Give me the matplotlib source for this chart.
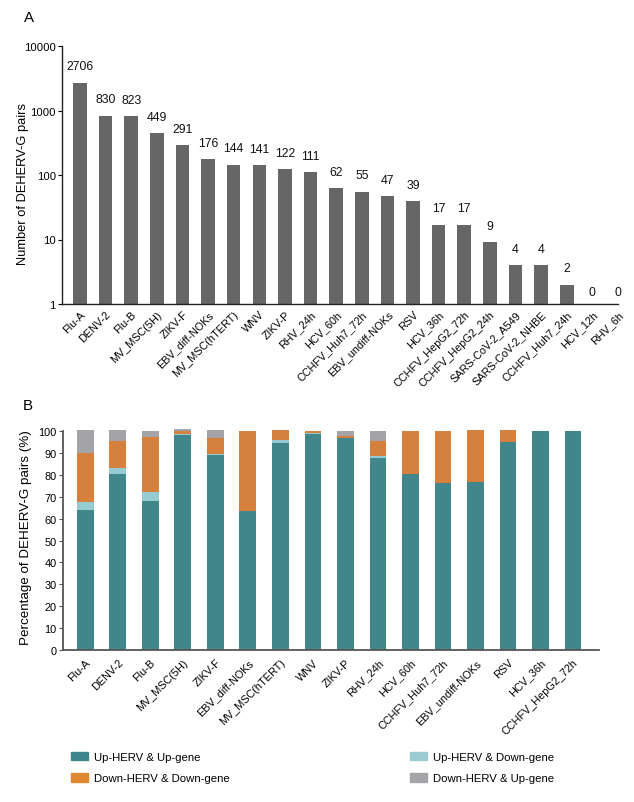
import matplotlib
matplotlib.use("Agg")
import matplotlib.pyplot as plt
from matplotlib.patches import Patch
import numpy as np

plt.rcParams['font.family'] = ['Liberation Sans', 'DejaVu Sans']

# ---------------- Data ----------------
cats_a = ['Flu-A', 'DENV-2', 'Flu-B', 'MV_MSC(5H)', 'ZIKV-F', 'EBV_diff-NOKs',
          'MV_MSC(hTERT)', 'WNV', 'ZIKV-P', 'RHV_24h', 'HCV_60h', 'CCHFV_Huh7_72h',
          'EBV_undiff-NOKs', 'RSV', 'HCV_36h', 'CCHFV_HepG2_72h', 'CCHFV_HepG2_24h',
          'SARS-CoV-2_A549', 'SARS-CoV-2_NHBE', 'CCHFV_Huh7_24h', 'HCV_12h', 'RHV_6h']
counts_a = [2706, 830, 823, 449, 291, 176, 144, 141, 122, 111, 62, 55, 47, 39,
            17, 17, 9, 4, 4, 2, 0, 0]

cats_b = ['Flu-A', 'DENV-2', 'Flu-B', 'MV_MSC(5H)', 'ZIKV-F', 'EBV_diff-NOKs',
          'MV_MSC(hTERT)', 'WNV', 'ZIKV-P', 'RHV_24h', 'HCV_60h', 'CCHFV_Huh7_72h',
          'EBV_undiff-NOKs', 'RSV', 'HCV_36h', 'CCHFV_HepG2_72h']
up_up     = [64.0, 80.5, 68.0, 98.3, 89.2, 63.6, 94.4, 98.8, 97.0, 87.5, 80.5, 76.4, 76.8, 95.0, 100.0, 100.0]
up_down   = [3.5, 2.7, 4.3, 0.4, 0.5, 0.0, 1.6, 0.4, 0.0, 0.9, 0.0, 0.0, 0.0, 0.0, 0.0, 0.0]
down_down = [22.5, 12.4, 25.0, 1.3, 6.9, 36.4, 4.5, 0.9, 0.5, 7.2, 19.5, 23.6, 23.6, 5.4, 0.0, 0.0]
down_up   = [10.4, 5.0, 2.7, 0.8, 4.0, 0.0, 0.0, 0.0, 2.7, 4.6, 0.0, 0.0, 0.0, 0.0, 0.0, 0.0]

series_labels = ['Up-HERV & Up-gene', 'Up-HERV & Down-gene',
                 'Down-HERV & Down-gene', 'Down-HERV & Up-gene']
series_colors = ['#41868A', '#96CBD1', '#D5803D', '#A4A3A7']
legend_colors = ['#3D878C', '#9ACCD2', '#DF8832', '#A5A4A8']

# ---------------- Figure ----------------
fig = plt.figure(figsize=(6.34, 8.03), dpi=100)

W, H = 634, 803
def ax_rect(l, t, r, b):
    return [l / W, 1 - b / H, (r - l) / W, (b - t) / H]

# ---------- Panel A ----------
axA = fig.add_axes(ax_rect(62, 47, 618, 305))
xa = np.arange(len(cats_a))
vals = np.array(counts_a, dtype=float)
plot_vals = np.where(vals > 0, vals, np.nan)
axA.bar(xa, plot_vals, width=0.53, color='#666666', bottom=0)
axA.set_yscale('log')
axA.set_ylim(1, 10000)
axA.set_xlim(-0.7, 21.0)
axA.set_yticks([1, 10, 100, 1000, 10000])
axA.set_yticklabels(['1', '10', '100', '1000', '10000'])
axA.yaxis.set_minor_locator(matplotlib.ticker.NullLocator())
for xi, v in zip(xa, counts_a):
    yv = v if v > 0 else 1
    off = 7.5 if v > 0 else 4.5
    axA.annotate(str(v), (xi, yv), xytext=(0, off), textcoords='offset points',
                 ha='center', va='bottom', fontsize=8.8, color='#111111')
axA.set_xticks(xa)
axA.set_xticklabels(cats_a, rotation=45, ha='right', va='top',
                    rotation_mode='anchor', fontsize=7.8)
axA.tick_params(axis='x', length=0, pad=3.5)
axA.tick_params(axis='y', length=3, width=0.8, labelsize=8.1, pad=1.5)
for s in ['top', 'right']:
    axA.spines[s].set_visible(False)
for s in ['left', 'bottom']:
    axA.spines[s].set_color('#222222')
    axA.spines[s].set_linewidth(1.0)
axA.set_ylabel('Number of DEHERV-G pairs', fontsize=9.3)
axA.yaxis.set_label_coords(-0.060, 0.47)

# ---------- Panel B ----------
axB = fig.add_axes(ax_rect(63, 432, 599, 651))
xb = np.arange(len(cats_b))
bottom = np.zeros(len(cats_b))
for data, col, lab in zip([up_up, up_down, down_down, down_up],
                          series_colors, series_labels):
    axB.bar(xb, data, bottom=bottom, width=0.52, color=col, label=lab,
            clip_on=False)
    bottom = bottom + np.array(data)
axB.set_ylim(0, 100)
axB.set_xlim(-0.69, 15.8)
axB.set_yticks(np.arange(0, 101, 10))
axB.set_xticks(xb)
axB.set_xticklabels(cats_b, rotation=45, ha='right', va='top',
                    rotation_mode='anchor', fontsize=7.8)
axB.tick_params(axis='x', length=0, pad=5)
axB.tick_params(axis='y', length=3, width=0.8, labelsize=7.9, pad=1.5,
                color='#555555')
for s in ['top', 'right']:
    axB.spines[s].set_visible(False)
for s in ['left', 'bottom']:
    axB.spines[s].set_color('#555555')
    axB.spines[s].set_linewidth(1.3)
axB.set_ylabel('Percentage of DEHERV-G pairs (%)', fontsize=9.6)
axB.yaxis.set_label_coords(-0.058, 0.52)

# Panel letters
fig.text(28.5 / W, 1 - 18.5 / H, 'A', fontsize=10.8, ha='center', va='center')
fig.text(27.5 / W, 1 - 406 / H, 'B', fontsize=10.8, ha='center', va='center')

# Legend
handles = [Patch(color=c) for c in legend_colors]
order = [0, 2, 1, 3]
fig.legend([handles[i] for i in order], [series_labels[i] for i in order],
           ncol=2, loc='upper left', bbox_to_anchor=(71 / W, 1 - 753 / H),
           frameon=False, fontsize=8.2, borderpad=0, borderaxespad=0,
           handlelength=1.5, handleheight=0.76, handletextpad=0.53,
           labelspacing=0.97, columnspacing=15.8)

fig.savefig('out.png', dpi=100)
